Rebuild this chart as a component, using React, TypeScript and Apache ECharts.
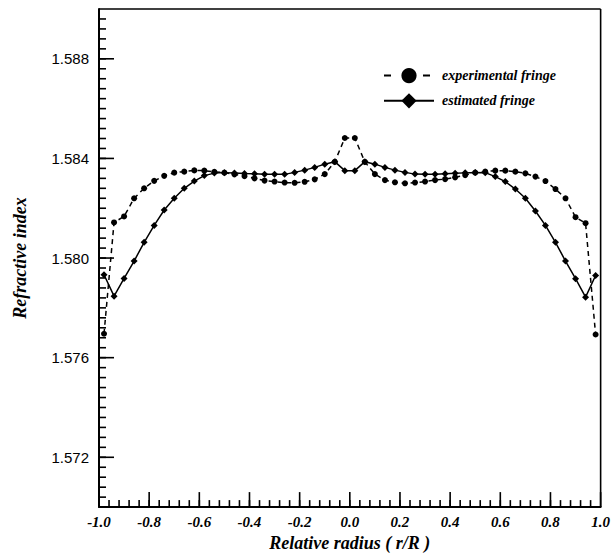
import React, { useEffect, useRef } from "react";
import * as echarts from "echarts";

const radius = [
  -0.98, -0.94, -0.9, -0.86, -0.82, -0.78, -0.74, -0.7, -0.66, -0.62, -0.58, -0.54, -0.5,
  -0.46, -0.42, -0.38, -0.34, -0.3, -0.26, -0.22, -0.18, -0.14, -0.1, -0.06, -0.02,
  0.02, 0.06, 0.1, 0.14, 0.18, 0.22, 0.26, 0.3, 0.34, 0.38, 0.42, 0.46, 0.5, 0.54,
  0.58, 0.62, 0.66, 0.7, 0.74, 0.78, 0.82, 0.86, 0.9, 0.94, 0.98,
];

const experimental = [
  1.57696, 1.58143, 1.58167, 1.5824, 1.5828, 1.5831, 1.5833, 1.58343, 1.58347, 1.58352,
  1.58351, 1.58346, 1.58343, 1.58336, 1.58329, 1.5832, 1.58311, 1.58307, 1.58303, 1.58302,
  1.58306, 1.58316, 1.58337, 1.58386, 1.58482,
  1.58482, 1.58386, 1.58337, 1.58313, 1.58304, 1.583, 1.58303, 1.58307, 1.58313, 1.58317,
  1.58324, 1.58333, 1.58343, 1.58347, 1.58351, 1.58351, 1.58347, 1.5834, 1.58327, 1.58309,
  1.58277, 1.5824, 1.58164, 1.5814, 1.57693,
];

const estimated = [
  1.57933, 1.57847, 1.57918, 1.57988, 1.58063, 1.58131, 1.58193, 1.5824, 1.5828, 1.58309,
  1.58331, 1.58341, 1.58343, 1.58341, 1.58339, 1.58338, 1.58336, 1.58336, 1.58336, 1.58344,
  1.58353, 1.58364, 1.58377, 1.58387, 1.58351,
  1.58351, 1.58387, 1.58377, 1.58364, 1.58353, 1.58344, 1.58337, 1.58336, 1.58336, 1.58338,
  1.5834, 1.58342, 1.58344, 1.58343, 1.58327, 1.58307, 1.58277, 1.5824, 1.58189, 1.58131,
  1.58063, 1.57988, 1.57917, 1.57843, 1.5793,
];

const yMajorTicks = [1.572, 1.576, 1.58, 1.584, 1.588];
const xMajorTicks = [-1.0, -0.8, -0.6, -0.4, -0.2, 0.0, 0.2, 0.4, 0.6, 0.8, 1.0];

const X_MIN = -1;
const X_MAX = 1;
const Y_MIN = 1.57;
const Y_MAX = 1.59;

// minor tick positions (axis decoration only)
const yMinorTicks: number[] = [];
for (let k = 1; k < 50; k++) yMinorTicks.push(Number((Y_MIN + k * 0.0004).toFixed(4)));
const xMinorTicks: number[] = [];
for (let k = 1; k < 50; k++) xMinorTicks.push(Number((X_MIN + k * 0.04).toFixed(2)));

const serif = "'Liberation Serif', 'DejaVu Serif', serif";
const sans = "'Liberation Sans', Arial, sans-serif";

// ticks drawn as thin filled rectangles, positioned through the axes' scales
function tickSeries(values: number[], orient: "x" | "y", len: number) {
  return {
    type: "custom",
    clip: false,
    silent: true,
    z: 20,
    data: values.map((v) => (orient === "x" ? [v, Y_MIN] : [X_MIN, v])),
    renderItem: (_params: any, api: any) => {
      const p = api.coord([api.value(0), api.value(1)]);
      const shape =
        orient === "y"
          ? { x: p[0], y: p[1] - 0.8, width: len, height: 1.6 }
          : { x: p[0] - 0.8, y: p[1] - len, width: 1.6, height: len };
      return { type: "rect", shape, style: { fill: "#000" } };
    },
  };
}

// top and right frame lines
const frameSeries = {
  type: "custom",
  clip: false,
  silent: true,
  z: 20,
  data: [[X_MIN, Y_MAX, X_MAX, Y_MAX], [X_MAX, Y_MAX, X_MAX, Y_MIN]],
  renderItem: (_params: any, api: any) => {
    const a = api.coord([api.value(0), api.value(1)]);
    const b = api.coord([api.value(2), api.value(3)]);
    return {
      type: "line",
      shape: { x1: a[0], y1: a[1], x2: b[0], y2: b[1] },
      style: { stroke: "#000", lineWidth: 1.6 },
    };
  },
};

export default function App() {
  const ref = useRef<HTMLDivElement>(null);
  useEffect(() => {
    if (!ref.current) return;
    const chart = echarts.init(ref.current, undefined, { renderer: "svg" });
    const titleStyle = {
      fontFamily: serif,
      fontStyle: "italic" as const,
      fontWeight: "bold" as const,
      fontSize: 18,
      color: "#000",
    };
    chart.setOption({
      animation: false,
      backgroundColor: "#fff",
      grid: { left: 99, right: 12, top: 9, bottom: 48, show: false },
      legend: {
        orient: "vertical",
        left: 378,
        top: 63,
        itemWidth: 50,
        itemHeight: 19,
        itemGap: 10,
        textStyle: {
          fontFamily: serif,
          fontStyle: "italic",
          fontWeight: "bold",
          fontSize: 14,
          color: "#000",
          padding: [0, 0, 0, 3],
        },
        data: [
          { name: "experimental fringe", lineStyle: { type: [7, 32], width: 2, color: "#000" } },
          { name: "estimated fringe", lineStyle: { type: "solid", width: 2, color: "#000" } },
        ],
      },
      xAxis: {
        type: "value",
        min: X_MIN,
        max: X_MAX,
        interval: 0.2,
        name: "Relative radius ( r/R )",
        nameLocation: "middle",
        nameGap: 22,
        nameTextStyle: titleStyle,
        axisLine: { show: true, onZero: false, lineStyle: { color: "#000", width: 2 } },
        axisTick: { show: false },
        axisLabel: {
          margin: 7,
          fontFamily: serif,
          fontStyle: "italic",
          fontWeight: "bold",
          fontSize: 15,
          color: "#000",
          formatter: (v: number) => v.toFixed(1),
        },
        splitLine: { show: false },
      },
      yAxis: {
        type: "value",
        min: Y_MIN,
        max: Y_MAX,
        name: "Refractive index",
        nameLocation: "middle",
        nameGap: 70,
        nameRotate: 90,
        nameTextStyle: titleStyle,
        axisLine: { show: true, onZero: false, lineStyle: { color: "#000", width: 2 } },
        axisTick: { show: false },
        axisLabel: {
          margin: 10,
          customValues: yMajorTicks,
          fontFamily: sans,
          fontSize: 15,
          color: "#000",
          formatter: (v: number) => v.toFixed(3),
        },
        splitLine: { show: false },
      },
      series: [
        tickSeries(yMinorTicks, "y", 7),
        tickSeries(yMajorTicks, "y", 15),
        tickSeries(xMinorTicks, "x", 7),
        tickSeries(xMajorTicks, "x", 15),
        frameSeries,
        {
          name: "experimental fringe",
          type: "line",
          data: radius.map((r, i) => [r, experimental[i]]),
          symbol: "circle",
          symbolSize: 6,
          itemStyle: { color: "#000" },
          lineStyle: { color: "#000", width: 1.5, type: [5, 4] },
        },
        {
          name: "estimated fringe",
          type: "line",
          data: radius.map((r, i) => [r, estimated[i]]),
          symbol: "diamond",
          symbolSize: 7,
          itemStyle: { color: "#000" },
          lineStyle: { color: "#000", width: 1.5, type: "solid" },
        },
      ],
    });
    return () => chart.dispose();
  }, []);
  return (
    <div
      ref={ref}
      style={{ position: "fixed", left: 0, top: 0, width: 613, height: 557, background: "#fff" }}
    />
  );
}
